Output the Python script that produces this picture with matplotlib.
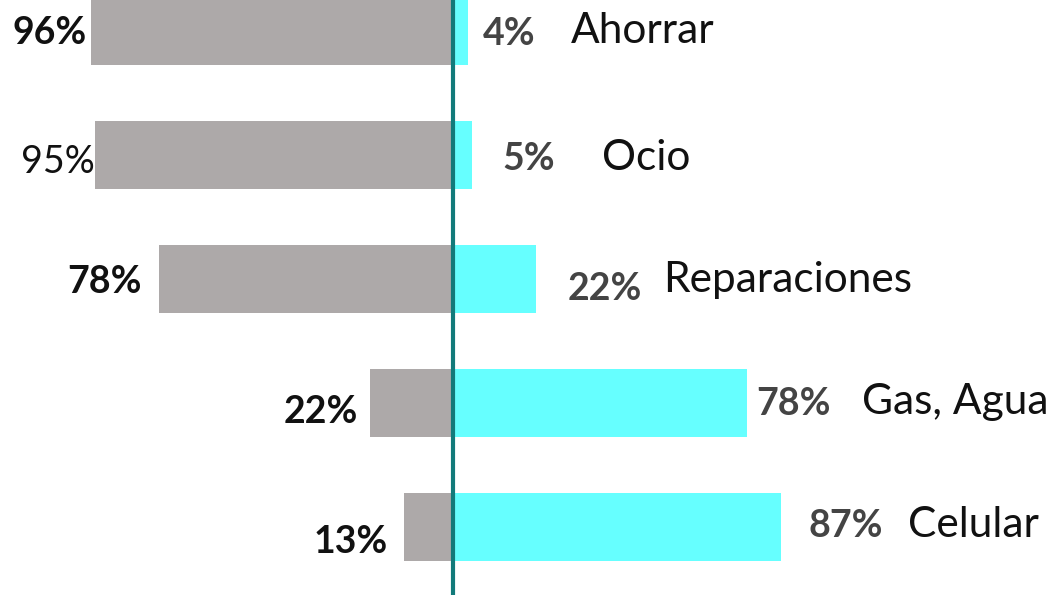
import matplotlib
matplotlib.use("Agg")
import matplotlib.pyplot as plt

categories = ["Ahorrar", "Ocio", "Reparaciones", "Gas, Agua", "Celular"]
left_vals = [96, 95, 78, 22, 13]
right_vals = [4, 5, 22, 78, 87]
left_bold = [True, False, True, True, True]

GRAY = "#ADA9A9"
CYAN = "#66FFFF"
TEAL = "#127A7A"
FONT = "Lato"

# label nudges in pixels (dx, dy): dx from the bar end, dy = baseline below bar centre
left_off = [(-4, 13), (0, 18), (-17, 14), (-12, 20), (-16, 26)]
pct_off = [(15, 14), (30, 15), (32, 21), (9, 12), (27, 10)]
cat_off = [(103, 12), (130, 15), (127, 13), (115, 11), (127, 10)]

PX = 0.72  # points per pixel at dpi 100

fig = plt.figure(figsize=(10.62, 5.95), dpi=100)
ax = fig.add_axes([0, 0, 1, 1])

ypos = list(range(len(categories)))
ax.barh(ypos, [-v for v in left_vals], height=0.55, color=GRAY)
ax.barh(ypos, right_vals, height=0.55, color=CYAN)
ax.axvline(0, color=TEAL, lw=3)

for i, cat in enumerate(categories):
    dx, dy = left_off[i]
    ax.annotate(f"{left_vals[i]}%", xy=(-left_vals[i], i),
                xytext=(dx * PX, -dy * PX), textcoords="offset points",
                ha="right", va="baseline", fontsize=27, family=FONT,
                fontweight="bold" if left_bold[i] else "normal",
                color="#111111")
    dx, dy = pct_off[i]
    ax.annotate(f"{right_vals[i]}%", xy=(right_vals[i], i),
                xytext=(dx * PX, -dy * PX), textcoords="offset points",
                ha="left", va="baseline", fontsize=27, family=FONT,
                fontweight="bold", color="#444444")
    dx, dy = cat_off[i]
    ax.annotate(cat, xy=(right_vals[i], i),
                xytext=(dx * PX, -dy * PX), textcoords="offset points",
                ha="left", va="baseline", fontsize=30.5, family=FONT,
                color="#111111")

ax.set_xlim(-120.2, 161.5)
ax.set_ylim(4.548, -0.25)
ax.axis("off")

plt.savefig("out.png", dpi=100)
plt.close()
